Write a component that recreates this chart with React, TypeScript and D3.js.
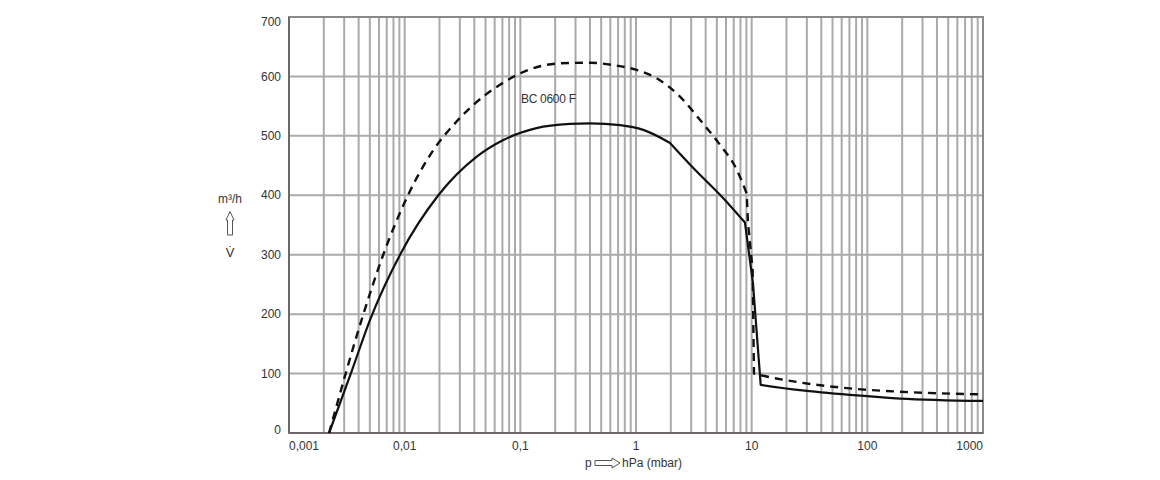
import React from "react";
import * as d3 from "d3";

// Pumping speed curves (m³/h) against inlet pressure (hPa)
const solidPressure = [0.00222, 0.00351, 0.00501, 0.00912, 0.01955, 0.042, 0.0713, 0.138, 0.268, 0.4, 0.728, 1.156, 1.97, 3.13, 5.69, 8.75, 10.26, 11.97, 26.2, 70.8, 191, 1000];
const solidSpeed = [0, 106, 190, 300, 400, 465, 493, 513, 520, 521, 518, 510, 488, 446, 395, 354, 252, 81, 72, 64, 58, 54];
// indices where the solid curve has a sharp corner
const solidCorners = [12, 15, 17];

const dashedPressure = [0.00222, 0.00438, 0.00653, 0.01074, 0.0177, 0.0272, 0.0392, 0.0667, 0.0993, 0.22, 0.4, 0.637, 1.01, 1.51, 2.4, 3.57, 5.32, 7.43, 9.06, 9.29, 10.2, 10.33, 10.47, 13.5, 26.2, 70.8, 191, 1000];
const dashedSpeed = [0, 199, 300, 401, 476, 521, 552, 586, 605, 622, 623, 619, 611, 597, 566, 527, 485, 443, 403, 354, 274, 190, 100, 95, 85, 75, 69.5, 65];
const dashedCorners = [18, 22];

const xTickValues = [0.001, 0.01, 0.1, 1, 10, 100, 1000];
const xTickLabels = ["0,001", "0,01", "0,1", "1", "10", "100", "1000"];
const yTickValues = [0, 100, 200, 300, 400, 500, 600, 700];

const curveLabel = "BC 0600 F";

const W = 1160;
const H = 480;
const left = 289;
const right = 983;
const top = 17;
const bottom = 433;

type Pt = [number, number];

export default function App() {
  const x = d3.scaleLog().domain([0.001, 1000]).range([left, right]);
  const y = d3.scaleLinear().domain([0, 700]).range([bottom, top]);

  // minor grid: 1..9 in every decade
  const gridX: number[] = [];
  for (let e = -3; e < 3; e++) {
    for (let k = 1; k <= 9; k++) gridX.push(k * Math.pow(10, e));
  }
  gridX.push(1000);

  const smooth = d3.line<Pt>().x((d) => x(d[0])).y((d) => y(d[1])).curve(d3.curveMonotoneX);
  const straight = d3.line<Pt>().x((d) => x(d[0])).y((d) => y(d[1])).curve(d3.curveLinear);

  // Smooth pieces between corners; the steep drops between corners are straight.
  const buildPath = (ps: number[], vs: number[], corners: number[], straightPieces: number[]) => {
    const pts: Pt[] = ps.map((p, i) => [p, vs[i]]);
    const bounds = [0, ...corners, pts.length - 1];
    let d = "";
    for (let s = 0; s < bounds.length - 1; s++) {
      const seg = pts.slice(bounds[s], bounds[s + 1] + 1);
      const gen = straightPieces.includes(s) ? straight : smooth;
      let part = gen(seg) || "";
      if (s > 0) part = "L" + part.slice(1);
      d += part;
    }
    return d;
  };

  const solid = buildPath(solidPressure, solidSpeed, solidCorners, [2]);
  const dashed = buildPath(dashedPressure, dashedSpeed, dashedCorners, [1]);

  const gridColor = "#aaaaaa";
  const textColor = "#333333";
  const font = "'Liberation Sans', Arial, sans-serif";

  return (
    <svg
      width={W}
      height={H}
      viewBox={`0 0 ${W} ${H}`}
      style={{ position: "absolute", left: 0, top: 0, background: "#fff" }}
      fontFamily={font}
    >
      <rect x={0} y={0} width={W} height={H} fill="#fff" />
      {/* grid */}
      {gridX.map((v, i) => (
        <line key={"gx" + i} x1={x(v)} x2={x(v)} y1={top} y2={bottom} stroke={gridColor} strokeWidth={2} />
      ))}
      {yTickValues.map((v) => (
        <line key={"gy" + v} x1={left} x2={right} y1={y(v)} y2={y(v)} stroke={gridColor} strokeWidth={2} />
      ))}
      {/* frame */}
      <rect x={left} y={top} width={right - left} height={bottom - top} fill="none" stroke="#8a8a8a" strokeWidth={2} />
      <line x1={left} x2={left} y1={top} y2={bottom} stroke="#6f6668" strokeWidth={2} />
      <line x1={left} x2={right} y1={bottom} y2={bottom} stroke="#6f6668" strokeWidth={2} />

      {/* curves */}
      <path d={dashed} fill="none" stroke="#111" strokeWidth={2.4} strokeDasharray="8 6" strokeLinejoin="round" />
      <path d={solid} fill="none" stroke="#111" strokeWidth={2.2} strokeLinejoin="round" />

      <text x={521} y={103} fontSize={12} fill={textColor} letterSpacing={-0.3}>
        {curveLabel}
      </text>

      {/* y tick labels */}
      {yTickValues.map((v) => {
        let yy = y(v);
        if (v === 700) yy += 5;
        if (v === 0) yy -= 3;
        return (
          <text key={"ty" + v} x={281} y={yy} dy="0.35em" fontSize={12} fill={textColor} textAnchor="end">
            {v}
          </text>
        );
      })}

      {/* x tick labels */}
      {xTickValues.map((v, i) => {
        const first = i === 0;
        const last = i === xTickValues.length - 1;
        return (
          <text
            key={"tx" + v}
            x={x(v)}
            y={446}
            dy="0.35em"
            fontSize={12}
            fill={textColor}
            textAnchor={first ? "start" : last ? "end" : "middle"}
          >
            {xTickLabels[i]}
          </text>
        );
      })}

      {/* x axis title */}
      <text x={585} y={463} dy="0.35em" fontSize={12} fill={textColor}>
        p
      </text>
      <path
        d="M595,460.5 L612,460.5 L612,458 L620,463 L612,468 L612,465.5 L595,465.5 Z"
        fill="#fff"
        stroke="#555"
        strokeWidth={1}
      />
      <text x={622} y={463} dy="0.35em" fontSize={12} fill={textColor}>
        hPa (mbar)
      </text>

      {/* y axis title */}
      <text x={230} y={199} dy="0.35em" fontSize={12} fill={textColor} textAnchor="middle">
        m³/h
      </text>
      <path
        d="M230,211.5 L234,220 L232.5,220 L232.5,235 L227.5,235 L227.5,220 L226,220 Z"
        fill="#fff"
        stroke="#555"
        strokeWidth={1}
      />
      <text x={230} y={252} dy="0.35em" fontSize={13} fill={textColor} textAnchor="middle">
        V̇
      </text>
    </svg>
  );
}
